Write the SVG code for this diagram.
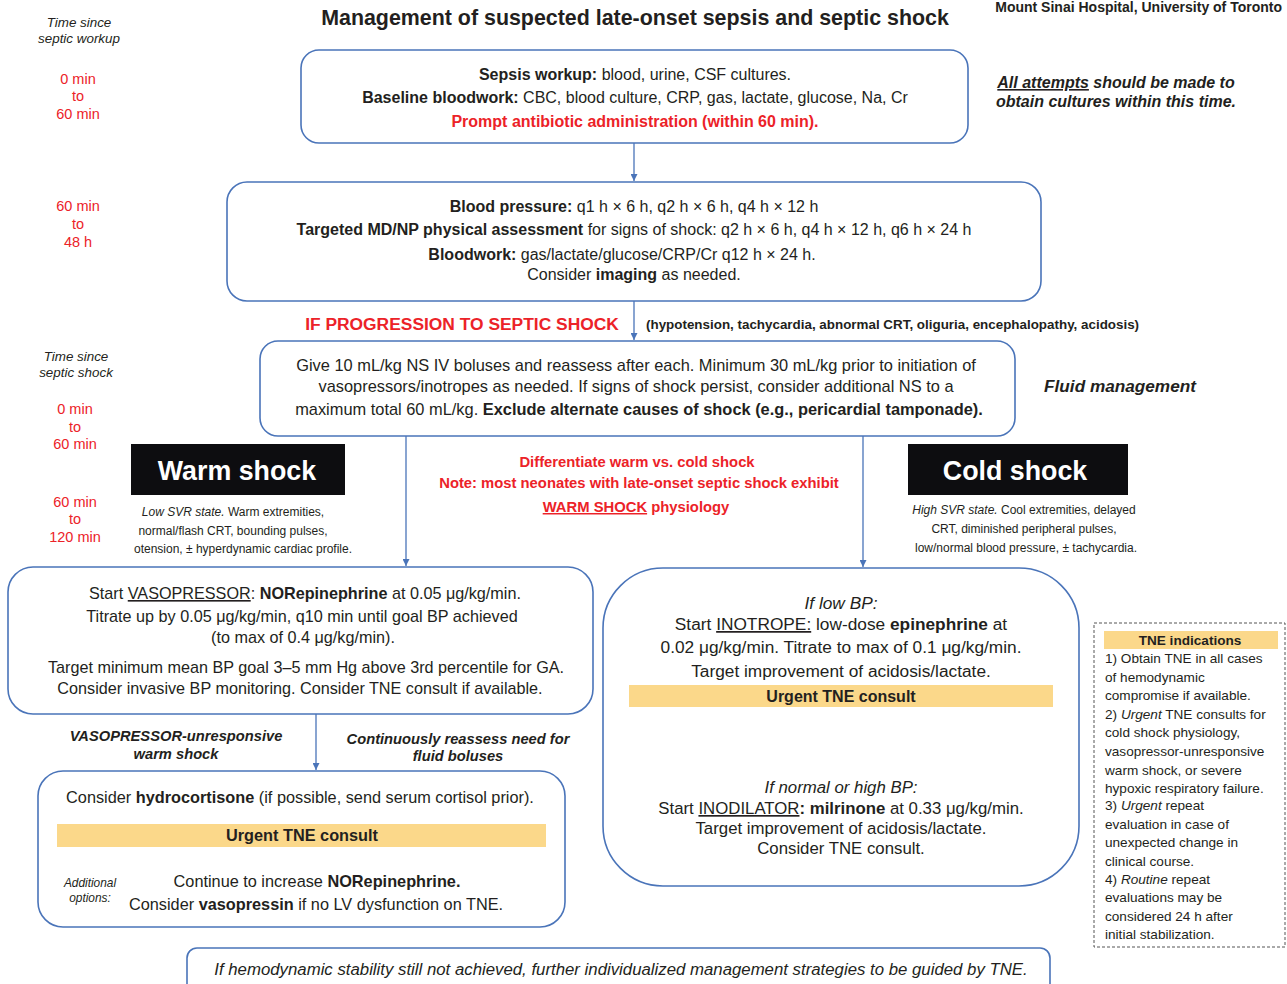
<svg xmlns="http://www.w3.org/2000/svg" width="1287" height="984" viewBox="0 0 1287 984">
<style>
text{font-family:"Liberation Sans",Arial,sans-serif;fill:#231f20}
.c{text-anchor:middle}
.b{font-weight:bold}
.i{font-style:italic}
.red{fill:#ec2228}
.box{fill:#fff;stroke:#4a74b9;stroke-width:1.6}
.bar{fill:#fbd88a}
.blk{fill:#0d0d10}
.w{fill:#fff}
.u{text-decoration:underline}
.con{stroke:#4a74b9;stroke-width:1.3;fill:none}
</style>
<defs>
<marker id="ah" viewBox="0 0 10 10" refX="10" refY="5" markerWidth="7" markerHeight="7" markerUnits="userSpaceOnUse" orient="auto">
<path d="M0,0 L10,5 L0,10 z" fill="#4a74b9"/>
</marker>
</defs>

<g id="header">
<text x="635" y="25" class="c b" font-size="21.4">Management of suspected late-onset sepsis and septic shock</text>
<text x="1282" y="12" class="b" font-size="14" text-anchor="end">Mount Sinai Hospital, University of Toronto</text>
</g>

<g id="timeline" font-size="14.5">
<text x="79" y="27" class="c i" font-size="13.4">Time since</text>
<text x="79" y="43" class="c i" font-size="13.4">septic workup</text>
<text x="78" y="84" class="c red">0 min</text>
<text x="78" y="101" class="c red">to</text>
<text x="78" y="119" class="c red">60 min</text>
<text x="78" y="211" class="c red">60 min</text>
<text x="78" y="229" class="c red">to</text>
<text x="78" y="247" class="c red">48 h</text>
<text x="76" y="361" class="c i" font-size="13.4">Time since</text>
<text x="76" y="377" class="c i" font-size="13.4">septic shock</text>
<text x="75" y="414" class="c red">0 min</text>
<text x="75" y="432" class="c red">to</text>
<text x="75" y="449" class="c red">60 min</text>
<text x="75" y="507" class="c red">60 min</text>
<text x="75" y="524" class="c red">to</text>
<text x="75" y="542" class="c red">120 min</text>
</g>

<g id="connectors">
<line x1="634" y1="143" x2="634" y2="181" class="con" marker-end="url(#ah)"/>
<line x1="634" y1="301" x2="634" y2="340" class="con" marker-end="url(#ah)"/>
<line x1="406" y1="436" x2="406" y2="566" class="con" marker-end="url(#ah)"/>
<line x1="863" y1="436" x2="863" y2="567" class="con" marker-end="url(#ah)"/>
<line x1="316" y1="714" x2="316" y2="770" class="con" marker-end="url(#ah)"/>
</g>

<g id="workup" font-size="16">
<rect x="301" y="50" width="667" height="93" rx="18" class="box"/>
<text x="635" y="80" class="c"><tspan class="b">Sepsis workup:</tspan> blood, urine, CSF cultures.</text>
<text x="635" y="103" class="c"><tspan class="b">Baseline bloodwork:</tspan> CBC, blood culture, CRP, gas, lactate, glucose, Na, Cr</text>
<text x="635" y="127" class="c b red">Prompt antibiotic administration (within 60 min).</text>
</g>

<g id="note-cultures" font-size="16">
<text x="1116" y="88" class="c b i"><tspan class="u">All attempts</tspan> should be made to</text>
<text x="1116" y="107" class="c b i">obtain cultures within this time.</text>
</g>

<g id="monitoring" font-size="16">
<rect x="227" y="182" width="814" height="119" rx="20" class="box"/>
<text x="634" y="212" class="c"><tspan class="b">Blood pressure:</tspan> q1 h × 6 h, q2 h × 6 h, q4 h × 12 h</text>
<text x="634" y="235" class="c"><tspan class="b">Targeted MD/NP physical assessment</tspan> for signs of shock: q2 h × 6 h, q4 h × 12 h, q6 h × 24 h</text>
<text x="622" y="260" class="c"><tspan class="b">Bloodwork:</tspan> gas/lactate/glucose/CRP/Cr q12 h × 24 h.</text>
<text x="634" y="280" class="c">Consider <tspan class="b">imaging</tspan> as needed.</text>
</g>

<g id="progression">
<text x="462" y="330" class="c b red" font-size="17.4">IF PROGRESSION TO SEPTIC SHOCK</text>
<text x="646" y="329" class="b" font-size="13.4">(hypotension, tachycardia, abnormal CRT, oliguria, encephalopathy, acidosis)</text>
</g>

<g id="fluids" font-size="16.4">
<rect x="260" y="341" width="755" height="95" rx="18" class="box"/>
<text x="636" y="371" class="c">Give 10 mL/kg NS IV boluses and reassess after each. Minimum 30 mL/kg prior to initiation of</text>
<text x="636" y="392" class="c">vasopressors/inotropes as needed. If signs of shock persist, consider additional NS to a</text>
<text x="639" y="415" class="c">maximum total 60 mL/kg. <tspan class="b">Exclude alternate causes of shock (e.g., pericardial tamponade).</tspan></text>
</g>

<g id="fluid-label">
<text x="1120" y="392" class="c b i" font-size="17.2">Fluid management</text>
</g>

<g id="warm-shock">
<rect x="131" y="444" width="214" height="51" class="blk"/>
<text x="237" y="480" class="c b w" font-size="26.8">Warm shock</text>
<text x="233" y="516" class="c" font-size="12"><tspan class="i">Low SVR state.</tspan> Warm extremities,</text>
<text x="233" y="535" class="c" font-size="12">normal/flash CRT, bounding pulses,</text>
<text x="243" y="553" class="c" font-size="12">otension, ± hyperdynamic cardiac profile.</text>
</g>

<g id="cold-shock">
<rect x="908" y="444" width="220" height="51" class="blk"/>
<text x="1015" y="480" class="c b w" font-size="26.8">Cold shock</text>
<text x="1024" y="514" class="c" font-size="12"><tspan class="i">High SVR state.</tspan> Cool extremities, delayed</text>
<text x="1024" y="533" class="c" font-size="12">CRT, diminished peripheral pulses,</text>
<text x="1026" y="552" class="c" font-size="12">low/normal blood pressure, ± tachycardia.</text>
</g>

<g id="differentiate" font-size="14.8">
<text x="637" y="467" class="c b red">Differentiate warm vs. cold shock</text>
<text x="639" y="488" class="c b red">Note: most neonates with late-onset septic shock exhibit</text>
<text x="636" y="512" class="c b red"><tspan class="u">WARM SHOCK</tspan> physiology</text>
</g>

<g id="vasopressor" font-size="16.2">
<rect x="8" y="567" width="585" height="147" rx="25" class="box"/>
<text x="305" y="599" class="c">Start <tspan class="u">VASOPRESSOR</tspan>: <tspan class="b">NORepinephrine</tspan> at 0.05 μg/kg/min.</text>
<text x="302" y="622" class="c">Titrate up by 0.05 μg/kg/min, q10 min until goal BP achieved</text>
<text x="303" y="643" class="c">(to max of 0.4 μg/kg/min).</text>
<text x="306" y="673" class="c">Target minimum mean BP goal 3–5 mm Hg above 3rd percentile for GA.</text>
<text x="300" y="694" class="c">Consider invasive BP monitoring. Consider TNE consult if available.</text>
</g>

<g id="warm-labels" font-size="14.7">
<text x="176" y="741" class="c b i">VASOPRESSOR-unresponsive</text>
<text x="176" y="759" class="c b i">warm shock</text>
<text x="458" y="744" class="c b i">Continuously reassess need for</text>
<text x="458" y="761" class="c b i">fluid boluses</text>
</g>

<g id="hydrocortisone" font-size="16.3">
<rect x="38" y="771" width="527" height="156" rx="25" class="box"/>
<text x="300" y="803" class="c">Consider <tspan class="b">hydrocortisone</tspan> (if possible, send serum cortisol prior).</text>
<rect x="57" y="824" width="489" height="23" class="bar"/>
<text x="302" y="841" class="c b">Urgent TNE consult</text>
<text x="90" y="887" class="c i" font-size="11.9">Additional</text>
<text x="90" y="902" class="c i" font-size="11.9">options:</text>
<text x="317" y="887" class="c">Continue to increase <tspan class="b">NORepinephrine.</tspan></text>
<text x="316" y="910" class="c">Consider <tspan class="b">vasopressin</tspan> if no LV dysfunction on TNE.</text>
</g>

<g id="inotrope">
<rect x="603" y="568" width="476" height="318" rx="60" class="box"/>
<text x="841" y="609" class="c i" font-size="17.3">If low BP:</text>
<text x="841" y="630" class="c" font-size="17.3">Start <tspan class="u">INOTROPE:</tspan> low-dose <tspan class="b">epinephrine</tspan> at</text>
<text x="841" y="653" class="c" font-size="17.3">0.02 μg/kg/min. Titrate to max of 0.1 μg/kg/min.</text>
<text x="841" y="677" class="c" font-size="17.3">Target improvement of acidosis/lactate.</text>
<rect x="629" y="685" width="424" height="22" class="bar"/>
<text x="841" y="702" class="c b" font-size="16">Urgent TNE consult</text>
<text x="841" y="793" class="c i" font-size="16.8">If normal or high BP:</text>
<text x="841" y="814" class="c" font-size="16.8">Start <tspan class="u">INODILATOR</tspan><tspan class="b">: milrinone</tspan> at 0.33 μg/kg/min.</text>
<text x="841" y="834" class="c" font-size="16.8">Target improvement of acidosis/lactate.</text>
<text x="841" y="854" class="c" font-size="16.8">Consider TNE consult.</text>
</g>

<g id="tne-indications" font-size="13.6">
<rect x="1094" y="623" width="191" height="324" fill="#fff" stroke="#555" stroke-width="1" stroke-dasharray="3,2"/>
<rect x="1104" y="631" width="174" height="18" class="bar"/>
<text x="1190" y="645" class="c b">TNE indications</text>
<text x="1105" y="663">1) Obtain TNE in all cases</text>
<text x="1105" y="682">of hemodynamic</text>
<text x="1105" y="700">compromise if available.</text>
<text x="1105" y="719">2) <tspan class="i">Urgent</tspan> TNE consults for</text>
<text x="1105" y="737">cold shock physiology,</text>
<text x="1105" y="756">vasopressor-unresponsive</text>
<text x="1105" y="775">warm shock, or severe</text>
<text x="1105" y="793">hypoxic respiratory failure.</text>
<text x="1105" y="810">3) <tspan class="i">Urgent</tspan> repeat</text>
<text x="1105" y="829">evaluation in case of</text>
<text x="1105" y="847">unexpected change in</text>
<text x="1105" y="866">clinical course.</text>
<text x="1105" y="884">4) <tspan class="i">Routine</tspan> repeat</text>
<text x="1105" y="902">evaluations may be</text>
<text x="1105" y="921">considered 24 h after</text>
<text x="1105" y="939">initial stabilization.</text>
</g>

<g id="final">
<rect x="187" y="948" width="863" height="50" rx="10" class="box"/>
<text x="621" y="975" class="c i" font-size="16.8">If hemodynamic stability still not achieved, further individualized management strategies to be guided by TNE.</text>
</g>
</svg>
